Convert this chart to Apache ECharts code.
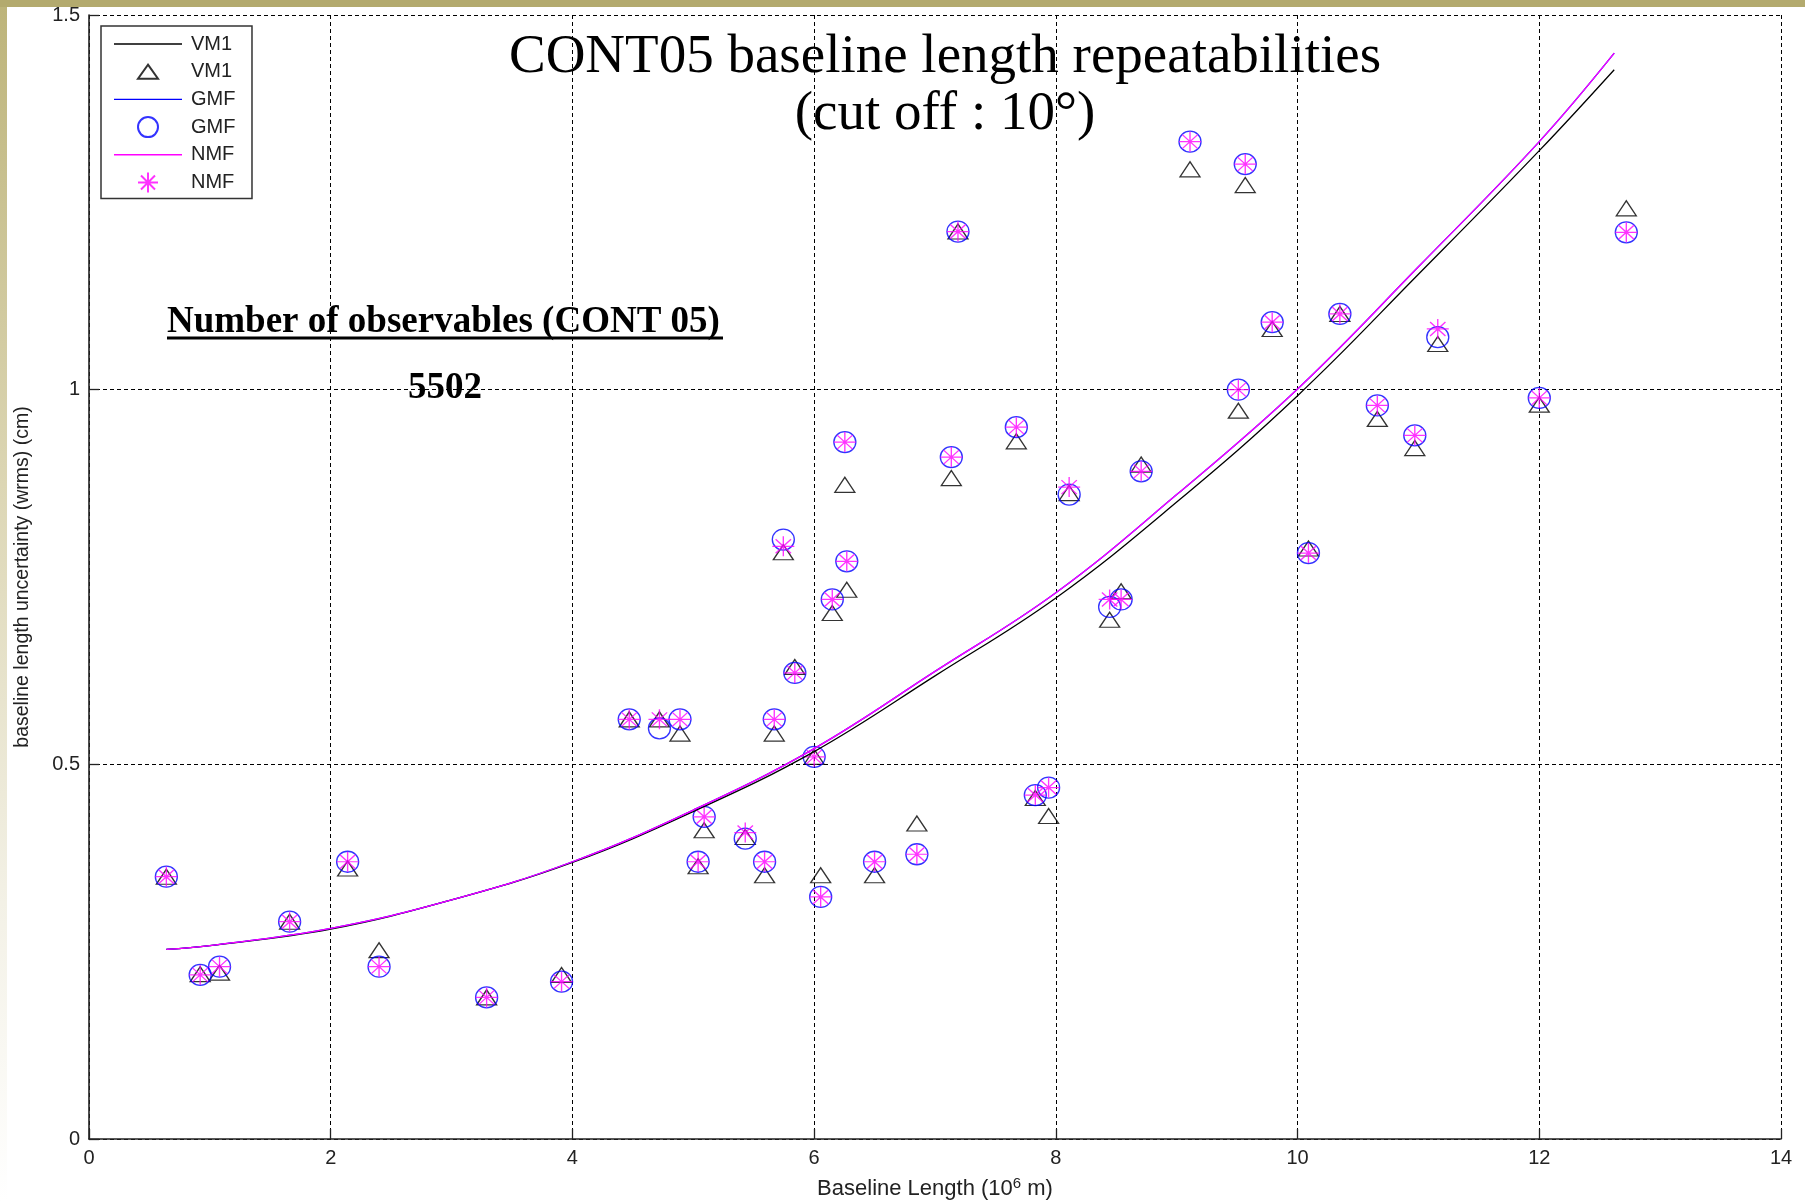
<!DOCTYPE html>
<html>
<head>
<meta charset="utf-8">
<script src="https://cdn.jsdelivr.net/npm/echarts@6/dist/echarts.min.js"></script>
<style>
html,body{margin:0;padding:0;background:#fff;}
#c{width:1805px;height:1201px;}
</style>
</head>
<body>
<div id="c"></div>
<script>
// ---- data ----
const baselineLength = [0.64, 0.92, 1.08, 1.66, 2.14, 2.40, 3.29, 3.91, 4.47, 4.72, 4.89, 5.04, 5.09, 5.43, 5.59, 5.67, 5.745, 5.84, 6.00, 6.054, 6.15, 6.254, 6.27, 6.50, 6.85, 7.135, 7.19, 7.673, 7.83, 7.94, 8.11, 8.445, 8.54, 8.706, 9.11, 9.51, 9.567, 9.79, 10.09, 10.35, 10.66, 10.97, 11.16, 12.00, 12.72];
const vm1 = [0.350, 0.220, 0.222, 0.290, 0.361, 0.252, 0.189, 0.219, 0.560, 0.560, 0.541, 0.364, 0.412, 0.403, 0.352, 0.541, 0.783, 0.630, 0.510, 0.352, 0.702, 0.873, 0.733, 0.352, 0.421, 0.882, 1.211, 0.931, 0.455, 0.431, 0.862, 0.693, 0.731, 0.900, 1.294, 0.972, 1.273, 1.081, 0.788, 1.101, 0.961, 0.922, 1.061, 0.980, 1.242];
const gmf = [0.350, 0.219, 0.230, 0.290, 0.370, 0.230, 0.189, 0.210, 0.560, 0.548, 0.560, 0.370, 0.430, 0.401, 0.370, 0.560, 0.800, 0.622, 0.510, 0.323, 0.720, 0.930, 0.771, 0.370, 0.380, 0.910, 1.211, 0.950, 0.459, 0.469, 0.860, 0.710, 0.720, 0.891, 1.331, 1.000, 1.301, 1.090, 0.782, 1.101, 0.979, 0.939, 1.070, 0.989, 1.210];
const nmf = [0.350, 0.219, 0.230, 0.290, 0.370, 0.230, 0.189, 0.210, 0.560, 0.560, 0.560, 0.370, 0.430, 0.409, 0.370, 0.560, 0.791, 0.622, 0.510, 0.323, 0.720, 0.930, 0.771, 0.370, 0.380, 0.910, 1.211, 0.950, 0.459, 0.469, 0.870, 0.720, 0.720, 0.891, 1.331, 1.000, 1.301, 1.090, 0.782, 1.101, 0.979, 0.939, 1.081, 0.989, 1.210];

// fitted curves, read at the marked baseline lengths
const fitX   = [0.64, 1, 2, 3, 4, 5, 6, 7, 8, 9, 10, 11, 12, 12.62];
const fitVM1 = [0.253, 0.258, 0.280, 0.319, 0.369, 0.437, 0.517, 0.618, 0.722, 0.850, 0.992, 1.154, 1.319, 1.427];
const fitGMF = [0.253, 0.258, 0.281, 0.319, 0.370, 0.439, 0.521, 0.624, 0.729, 0.860, 1.001, 1.164, 1.331, 1.449];
const fitNMF = [0.253, 0.258, 0.281, 0.319, 0.370, 0.439, 0.521, 0.624, 0.729, 0.860, 1.001, 1.164, 1.331, 1.449];

const titleLines = ['CONT05 baseline length repeatabilities', '(cut off : 10°)'];
const noteTitle = 'Number of observables (CONT 05)';
const observableCount = 5502;

// ---- build ----
const zip = (xs, ys) => xs.map((x, i) => [x, ys[i]]);
const STAR = 'path://M10,0L10,20M0,10L20,10M3,3L17,17M3,17L17,3';
const LINE_ICON = 'path://M0,0L68,0L68,1.4L0,1.4Z';
const TRI_ICON = 'path://M0,0L0,0M20,20L20,20M10,3L20,17L0,17Z';
const SANS = '"Liberation Sans", Arial, sans-serif';
const SERIF = '"Liberation Serif", "Times New Roman", serif';

const chart = echarts.init(document.getElementById('c'), null, {renderer: 'canvas'});

const lineSeries = (name, ys, color) => ({
  name, type: 'line', data: zip(fitX, ys), smooth: 0.4, symbol: 'none', showSymbol: false,
  lineStyle: {color, width: 1.3}, itemStyle: {color}, emphasis: {disabled: true}, silent: true
});
const scatterSeries = (name, ys, symbol, size, color) => ({
  name, type: 'scatter', data: zip(baselineLength, ys), symbol, symbolSize: size, symbolKeepAspect: false,
  itemStyle: {color: 'rgba(0,0,0,0)', borderColor: color, borderWidth: 1.3},
  emphasis: {disabled: true}, silent: true
});

chart.setOption({
  animation: false,
  backgroundColor: '#ffffff',
  title: {
    text: titleLines.join('\n'),
    left: 945, top: 29, textAlign: 'center', padding: 0,
    textStyle: {fontFamily: SERIF, fontWeight: 'normal', fontSize: 55, lineHeight: 57, color: '#000'}
  },
  legend: {
    data: [
      {name: 'VM1', icon: LINE_ICON},
      {name: 'VM1 ', icon: TRI_ICON},
      {name: 'GMF', icon: LINE_ICON},
      {name: 'GMF '},
      {name: 'NMF', icon: LINE_ICON},
      {name: 'NMF '}
    ],
    orient: 'vertical', left: 101, top: 26,
    padding: [8, 11, 5, 13],
    itemWidth: 68, itemHeight: 20, itemGap: 6.7,
    backgroundColor: '#fff', borderColor: '#333', borderWidth: 1.5, borderRadius: 0,
    selectedMode: false,
    textStyle: {fontFamily: SANS, fontSize: 20, lineHeight: 20, color: '#222', padding: [0, 0, 0, 4]}
  },
  grid: {left: 89, right: 24, top: 15, bottom: 62, containLabel: false, outerBoundsMode: 'none'},
  xAxis: {
    type: 'value', min: 0, max: 14, interval: 2,
    name: 'Baseline Length (10{sup|6} m)', nameLocation: 'middle', nameGap: 37,
    nameTextStyle: {fontFamily: SANS, fontSize: 22, color: '#222',
      rich: {sup: {fontFamily: SANS, fontSize: 15, color: '#222', padding: [0, 0, 11, 0]}}},
    axisLine: {show: true, onZero: false, lineStyle: {color: '#222', width: 1.6}},
    axisTick: {show: true, inside: true, length: 10, lineStyle: {color: '#222', width: 1.3}},
    axisLabel: {fontFamily: SANS, fontSize: 20, color: '#222', margin: 9},
    splitLine: {show: true, lineStyle: {type: [4, 3], color: '#000', width: 1}}
  },
  yAxis: {
    type: 'value', min: 0, max: 1.5, interval: 0.5,
    name: 'baseline length uncertainty (wrms) (cm)', nameLocation: 'middle', nameGap: 56,
    nameTextStyle: {fontFamily: SANS, fontSize: 19.5, color: '#222'},
    axisLine: {show: true, onZero: false, lineStyle: {color: '#222', width: 1.6}},
    axisTick: {show: true, inside: true, length: 10, lineStyle: {color: '#222', width: 1.3}},
    axisLabel: {fontFamily: SANS, fontSize: 20, color: '#222', margin: 9},
    splitLine: {show: true, lineStyle: {type: [4, 3], color: '#000', width: 1}}
  },
  series: [
    lineSeries('VM1', fitVM1, '#000000'),
    scatterSeries('VM1 ', vm1, 'triangle', [20, 15], '#000000'),
    lineSeries('GMF', fitGMF, '#0000ff'),
    scatterSeries('GMF ', gmf, 'circle', [22, 21], '#0000ff'),
    lineSeries('NMF', fitNMF, '#ff00ff'),
    scatterSeries('NMF ', nmf, STAR, [22, 20], '#ff00ff')
  ],
  graphic: [
    {type: 'rect', z: 100, silent: true, shape: {x: 0, y: 0, width: 1805, height: 7}, style: {fill: '#b3aa6e'}},
    {type: 'rect', z: 100, silent: true, shape: {x: 0, y: 7, width: 7, height: 1194},
      style: {fill: new echarts.graphic.LinearGradient(0, 0, 0, 1, [
        {offset: 0, color: '#bdb47a'}, {offset: 0.4, color: '#dcd6b4'},
        {offset: 0.75, color: '#f3f1e6'}, {offset: 1, color: '#ffffff'}])}},
    {type: 'text', z: 100, silent: true,
      style: {text: noteTitle, x: 167, y: 322, fontFamily: SERIF, fontWeight: 'bold', fontSize: 37,
        fill: '#000', align: 'left', verticalAlign: 'middle'}},
    {type: 'line', z: 100, silent: true, shape: {x1: 167, y1: 338, x2: 723, y2: 338},
      style: {stroke: '#000', lineWidth: 3}},
    {type: 'text', z: 100, silent: true,
      style: {text: String(observableCount), x: 445, y: 388, fontFamily: SERIF, fontWeight: 'bold', fontSize: 37,
        fill: '#000', align: 'center', verticalAlign: 'middle'}}
  ]
});
</script>
</body>
</html>
